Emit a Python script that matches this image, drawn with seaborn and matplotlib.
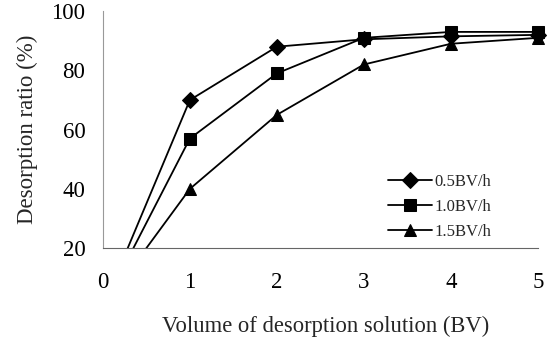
import pandas as pd
import matplotlib.pyplot as plt
import seaborn as sns

# data
volume = [0, 1, 2, 3, 4, 5]
rate_05 = [0, 70, 88, 90.5, 91.5, 92]
rate_10 = [0, 57, 79, 91, 93, 93]
rate_15 = [0, 40, 65, 82, 89, 91]
labels = ["0.5BV/h", "1.0BV/h", "1.5BV/h"]

df = pd.DataFrame({
    "volume": volume * 3,
    "ratio": rate_05 + rate_10 + rate_15,
    "rate": [labels[0]] * 6 + [labels[1]] * 6 + [labels[2]] * 6,
})

sns.set_style("white")
plt.rcParams['font.family'] = ['Liberation Serif', 'DejaVu Serif']

fig = plt.figure(figsize=(5.5, 3.49), dpi=100)
ax = fig.add_axes([0.187, 0.289, 0.81, 0.679])

sns.lineplot(data=df, x="volume", y="ratio", hue="rate", style="rate",
             palette=["black"] * 3, markers={labels[0]: "D", labels[1]: "s", labels[2]: "^"},
             dashes=False, markersize=8, linewidth=1.3, markeredgecolor="black",
             ax=ax)

ax.set_xlim(0, 5.12)
ax.set_ylim(20, 100)
ax.set_xticks([0, 1, 2, 3, 4, 5])
ax.set_yticks([20, 40, 60, 80, 100])
sns.despine(ax=ax)
ax.spines['bottom'].set_bounds(0, 5)
ax.spines['left'].set_color('#999999')
ax.spines['bottom'].set_color('#666666')
ax.tick_params(axis='both', direction='inout', length=9, width=0.8, colors='#999999',
               labelcolor='black', labelsize=16.5)
ax.tick_params(axis='y', pad=8)
ax.tick_params(axis='x', pad=13)
ax.set_xlabel("Volume of desorption solution (BV)", fontsize=16.3, labelpad=16)
ax.set_ylabel("Desorption ratio (%)", fontsize=16.5, labelpad=10)

leg = ax.legend(loc='lower right', bbox_to_anchor=(0.905, -0.03), frameon=False,
                fontsize=12, handlelength=2.6, handletextpad=0.15, labelspacing=0.55)

fig.savefig("out.png", dpi=100)
